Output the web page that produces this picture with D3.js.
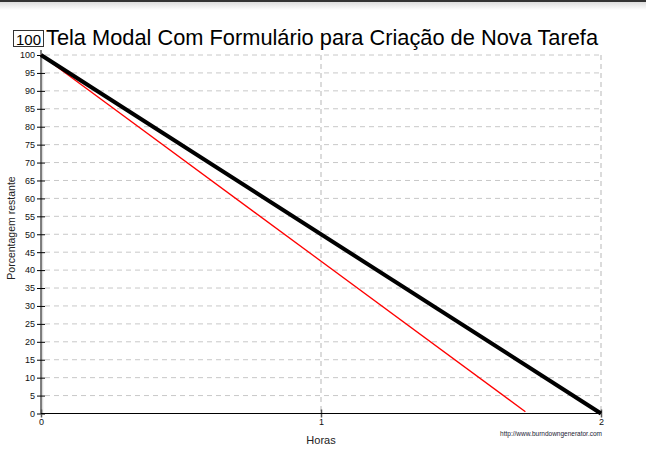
<!DOCTYPE html>
<html><head><meta charset="utf-8">
<script src="https://cdn.jsdelivr.net/npm/d3@7"></script>
<style>
body{margin:0;background:#fff;}
svg{display:block;font-family:"Liberation Sans",Arial,sans-serif;}
</style></head>
<body><svg id="c" width="646" height="457"></svg>
<script>
const title = "Tela Modal Com Formulário para Criação de Nova Tarefa";
const badge = "100";
const xLabel = "Horas";
const yLabel = "Porcentagem restante";
const credit = "http://www.burndowngenerator.com";
const xTicks = [0, 1, 2];
const yTicks = d3.range(0, 101, 5);
const idealHours = [0, 2];
const idealValues = [100, 0];
const actualHours = [0, 1.73];
const actualValues = [100, 0.5];

const svg = d3.select("#c");
// top border
const defs = svg.append("defs");
const g0 = defs.append("linearGradient").attr("id","sh").attr("x1",0).attr("x2",0).attr("y1",0).attr("y2",1);
g0.append("stop").attr("offset","0").attr("stop-color","#ddd");
g0.append("stop").attr("offset","1").attr("stop-color","#fff");
svg.append("rect").attr("x",0).attr("y",2).attr("width",646).attr("height",8).attr("fill","url(#sh)");
svg.append("rect").attr("x",0).attr("y",0).attr("width",646).attr("height",2).attr("fill","#333");

const x = d3.scaleLinear().domain([0,2]).range([41,601]);
const y = d3.scaleLinear().domain([0,100]).range([413.5,55]);

// grid
svg.append("g").selectAll("line").data(yTicks.filter(d=>d>0)).join("line")
  .attr("x1",45).attr("x2",601).attr("y1",d=>y(d)).attr("y2",d=>y(d))
  .attr("stroke","#c8c8c8").attr("stroke-width",1).attr("stroke-dasharray","5,4");
svg.append("g").selectAll("line").data(xTicks.filter(d=>d>0)).join("line")
  .attr("x1",d=>x(d)).attr("x2",d=>x(d)).attr("y1",55).attr("y2",413)
  .attr("stroke","#d0d0d0").attr("stroke-width",1.5).attr("stroke-dasharray","5,4");

// light strip next to y axis
svg.append("line").attr("x1",42.5).attr("x2",42.5).attr("y1",55).attr("y2",413)
  .attr("stroke","#dcdcdc").attr("stroke-width",1.5);

// axes
const yAxis = d3.axisLeft(y).tickValues(yTicks).tickSize(4).tickPadding(2);
const ya = svg.append("g").attr("transform","translate(41,0)").call(yAxis);
ya.select(".domain").remove();
ya.selectAll(".tick line").attr("x1",-4).attr("x2",4).attr("stroke","#000");
ya.selectAll("text").attr("font-size",9).attr("fill","#111").attr("font-family","Liberation Sans, Arial, sans-serif");
svg.append("line").attr("x1",41).attr("x2",41).attr("y1",50).attr("y2",414).attr("stroke","#000").attr("stroke-width",1);

const xAxis = d3.axisBottom(x).tickValues(xTicks).tickSize(4).tickFormat(d3.format("d")).tickPadding(1);
const xa = svg.append("g").attr("transform","translate(0,413.5)").call(xAxis);
xa.select(".domain").remove();
xa.selectAll(".tick line").attr("y1",-4).attr("y2",4).attr("stroke","#555").attr("stroke-width",1.5);
xa.selectAll("text").attr("font-size",9).attr("fill","#111").attr("font-family","Liberation Sans, Arial, sans-serif");
svg.append("line").attr("x1",41).attr("x2",601).attr("y1",413.5).attr("y2",413.5).attr("stroke","#000").attr("stroke-width",1.2);

// lines
const line = d3.line().x(d=>x(d[0])).y(d=>y(d[1]));
svg.append("path").datum(actualHours.map((h,i)=>[h,actualValues[i]]))
  .attr("d",line).attr("fill","none").attr("stroke","#ff0000").attr("stroke-width",1.3);
svg.append("path").datum(idealHours.map((h,i)=>[h,idealValues[i]]))
  .attr("d",line).attr("fill","none").attr("stroke","#000").attr("stroke-width",4);

// title and badge
svg.append("rect").attr("x",13.5).attr("y",30.5).attr("width",30).attr("height",16)
  .attr("fill","#fff").attr("stroke","#333").attr("stroke-width",1);
svg.append("text").attr("x",28.5).attr("y",45).attr("text-anchor","middle").attr("font-size",15).attr("fill","#000").text(badge);
svg.append("text").attr("x",46).attr("y",45).attr("font-size",21.8).attr("fill","#000").text(title);

// labels
svg.append("text").attr("x",321).attr("y",444).attr("text-anchor","middle").attr("font-size",11).attr("fill","#222").text(xLabel);
svg.append("text").attr("transform","translate(15,228) rotate(-90)").attr("text-anchor","middle").attr("font-size",10.5).attr("fill","#222").text(yLabel);
svg.append("text").attr("x",602).attr("y",436).attr("text-anchor","end").attr("font-size",6.5).attr("fill","#223").text(credit);
</script></body></html>
